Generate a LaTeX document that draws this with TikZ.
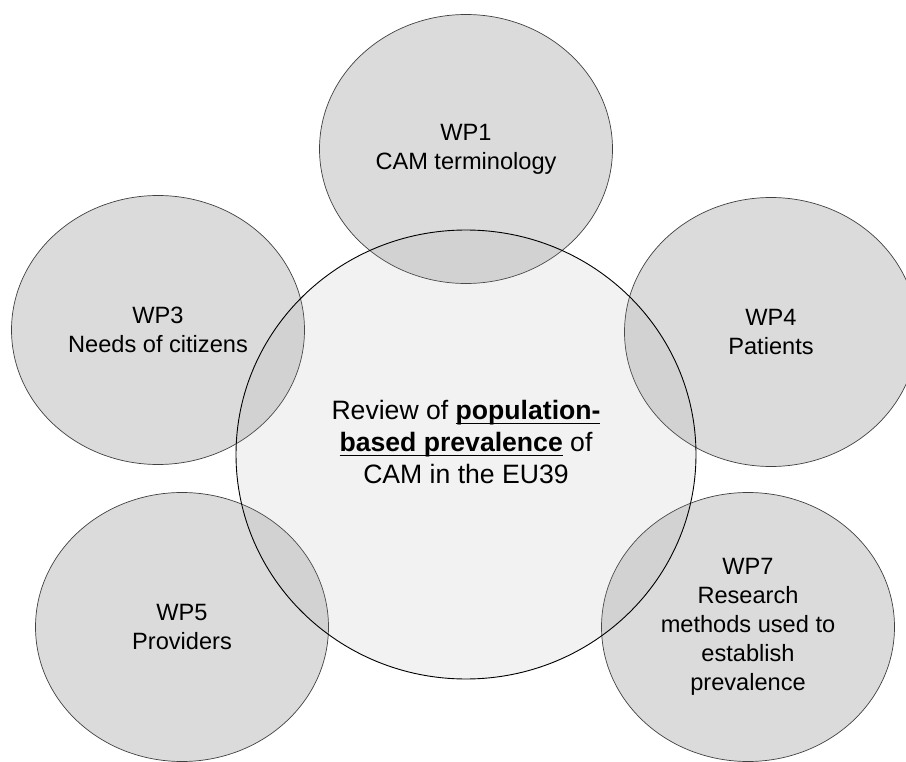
\documentclass[tikz,border=0pt]{standalone}
\usepackage{fontspec}
\setmainfont{Liberation Sans}
\usetikzlibrary{shapes.geometric}

\newcommand{\undertext}[1]{\setbox0\hbox{#1}\rlap{\rule[-4.5pt]{\wd0}{1.4pt}}\box0\relax}

\tikzset{
  wpcircle/.style={ellipse, draw=black!75, line width=0.7pt, fill=black!14,
    minimum width=293pt, minimum height=269pt, inner sep=0pt, align=center,
    font=\fontsize{23.6}{29}\selectfont},
  hub/.style={ellipse, draw=black, line width=0.9pt, fill=black!40, fill opacity=0.12,
    minimum width=460pt, minimum height=449pt, inner sep=0pt},
  hubtext/.style={align=center, font=\fontsize{26.6}{32}\selectfont}
}

\begin{document}
\begin{tikzpicture}[x=1pt, y=-1pt]
  \fill[white] (0,0) rectangle (906,762);
  \useasboundingbox (0,0) rectangle (906,762);

  % Work packages around the review
  \node[wpcircle] (wp1) at (466,149) {WP1\\CAM terminology};
  \node[wpcircle] (wp3) at (158,330) {WP3\\Needs of citizens};
  \node[wpcircle] (wp4) at (771,332) {WP4\\Patients};
  \node[wpcircle] (wp5) at (182,627) {WP5\\Providers};
  \node[wpcircle] (wp7) at (748,627) {WP7\\Research\\methods used to\\establish\\prevalence};

  % Central review
  \node[hub] (review) at (466,454.5) {};
  \node[hubtext] (reviewtext) at (466,442) {
    Review of \undertext{\textbf{population-}}\\
    \undertext{\textbf{based prevalence}} of\\
    CAM in the EU39
  };
\end{tikzpicture}
\end{document}
